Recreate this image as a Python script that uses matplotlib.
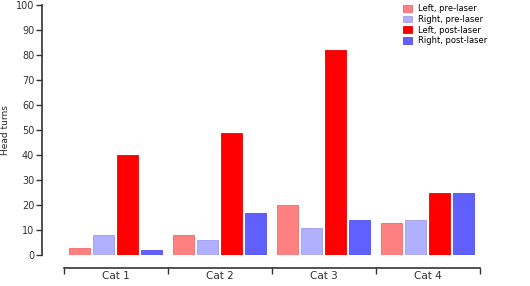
import numpy as np
import matplotlib.pyplot as plt

categories = ["Cat 1", "Cat 2", "Cat 3", "Cat 4"]
series_names = ["Left, pre-laser", "Right, pre-laser", "Left, post-laser", "Right, post-laser"]
left_pre = [3, 8, 20, 13]
right_pre = [8, 6, 11, 14]
left_post = [40, 49, 82, 25]
right_post = [2, 17, 14, 25]
colors = ["#ff8080", "#b0b0ff", "#ff0000", "#6060ff"]
edges = ["#f06a6a", "#9c9cf0", "#f00000", "#5050f0"]

fig = plt.figure(figsize=(5.3, 2.86), dpi=100)
ax = fig.add_axes([64/530, 31/286, 416/530, 250/286])

x = np.arange(len(categories))
pitch = 24/104
width = 21/104
for i, vals in enumerate([left_pre, right_pre, left_post, right_post]):
    pos = x + 0.5 + (i - 1.5) * pitch - 0.008
    ax.bar(pos, vals, width=width, color=colors[i], edgecolor=edges[i],
           linewidth=0.6, label=series_names[i])

ax.set_xlim(0, 4)
ax.set_ylim(0, 100)
ax.set_yticks(range(0, 101, 10))
ax.set_xticks([0, 1, 2, 3, 4])
ax.set_xticklabels([])
ax.set_xticks(x + 0.5, minor=True)
ax.set_xticklabels(categories, minor=True)
ax.tick_params(axis="x", which="minor", length=0, pad=2, labelsize=7.5, labelcolor="#333333")
ax.tick_params(axis="x", which="major", length=4, width=1, color="#333333", direction="out")
ax.tick_params(axis="y", length=4, width=1, color="#333333", labelsize=7, labelcolor="#333333", pad=1.5)

for s in ["top", "right"]:
    ax.spines[s].set_visible(False)
ax.spines["left"].set_position(("outward", 16))
ax.spines["bottom"].set_position(("outward", 9.5))
ax.spines["left"].set_linewidth(1.2)
ax.spines["bottom"].set_linewidth(1.2)
ax.spines["left"].set_color("#333333")
ax.spines["bottom"].set_color("#333333")

ax.set_ylabel("Head turns", fontsize=6.5, color="#222222", labelpad=4)

leg = ax.legend(loc="upper left", bbox_to_anchor=(335/416, 1.02), fontsize=6,
                frameon=False, handlelength=1.1, handleheight=0.9,
                labelspacing=0.2, handletextpad=0.7, borderpad=0)

fig.savefig("out.png", dpi=100)
